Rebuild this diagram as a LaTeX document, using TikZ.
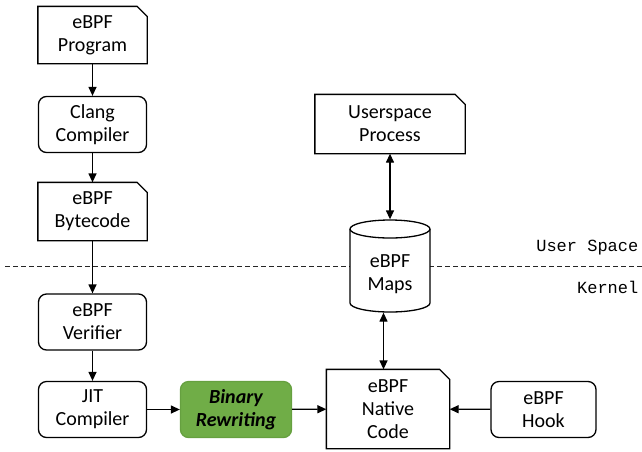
\documentclass[tikz,border=0pt]{standalone}
\usepackage{fontspec}
\setmainfont{Carlito}
\newfontfamily\monofont{Liberation Mono}
\usetikzlibrary{arrows.meta}
\definecolor{rewgreen}{HTML}{70AD47}
\definecolor{rewborder}{HTML}{66A040}
\newcommand\cutframe[2][10pt]{\draw (#2.south west) -- (#2.north west) -- ([xshift=-#1]#2.north east) -- ([yshift=-#1]#2.north east) -- (#2.south east) -- cycle;}
\begin{document}
\begin{tikzpicture}[x=1pt,y=1pt,line width=1.3pt,
  boxbase/.style={minimum width=108pt, minimum height=56pt, align=center, inner sep=0pt, font=\fontsize{20}{23}\selectfont},
  rbox/.style={boxbase, draw, rounded corners=8pt},
  cbox/.style={boxbase},
  greenbox/.style={boxbase, minimum width=111pt, fill=rewgreen, draw=rewborder, rounded corners=8pt, font=\fontsize{20}{23}\selectfont\bfseries\itshape},
  arr/.style={-{Triangle[length=9pt,width=8pt]}},
  biarr/.style={{Triangle[length=9pt,width=8pt]}-{Triangle[length=9pt,width=8pt]}},
  sidelabel/.style={anchor=east, inner sep=0pt, font=\monofont\fontsize{17}{20}\selectfont}
]
\useasboundingbox (0,0) rectangle (642,-451);

% separator
\draw[dash pattern=on 5pt off 3pt, line width=1pt, black!85] (5,-266) coordinate (dl) -- (642,-266) coordinate (dr);
\node[sidelabel] (us) at (639,-248) {User Space};
\node[sidelabel] (kn) at (639,-287) {Kernel};

% left column
\node[cbox] (prog) at (92.5,-35) {eBPF\\Program};
\cutframe{prog}
\node[rbox] (clang) at (92.5,-124.5) {Clang\\Compiler};
\node[cbox, minimum height=57pt] (byte) at (92.5,-211.5) {eBPF\\Bytecode};
\cutframe{byte}
\node[rbox] (verif) at (92.5,-322) {eBPF\\Verifier};
\node[rbox] (jit) at (92.5,-409.5) {JIT\\Compiler};

% bottom row
\node[greenbox] (bin) at (236,-409.5) {Binary\\Rewriting};
\node[cbox, minimum width=122pt, minimum height=78pt] (native) at (388,-409) {eBPF\\Native\\Code};
\cutframe{native}
\node[rbox, minimum width=105pt] (hook) at (543.5,-409.5) {eBPF\\Hook};

% userspace process
\node[cbox, minimum width=149pt, minimum height=58pt] (user) at (390,-124) {Userspace\\Process};
\cutframe{user}

% maps cylinder
\node[minimum width=80pt, minimum height=92pt, inner sep=0pt] (maps) at (390,-266) {};
\fill[white] (350,-229) -- (350,-303) arc[start angle=180, end angle=360, x radius=40pt, y radius=9pt] -- (430,-229) arc[start angle=0, end angle=180, x radius=40pt, y radius=9pt] -- cycle;
\draw (350,-229) -- (350,-303) arc[start angle=180, end angle=360, x radius=40pt, y radius=9pt] -- (430,-229);
\draw (390,-229) ellipse[x radius=40pt, y radius=9pt];
\node[align=center, inner sep=0pt, font=\fontsize{20}{23}\selectfont] (mapstext) at (390,-274) {eBPF\\Maps};

% connectors
\draw[arr] (prog) -- (clang);
\draw[arr] (clang) -- (byte);
\draw[arr] (byte) -- (verif);
\draw[arr] (verif) -- (jit);
\draw[arr] (jit) -- (bin);
\draw[arr] (bin) -- (native);
\draw[arr] (hook) -- (native);
\draw[biarr] (user.south) -- (maps.north);
\draw[biarr] ([xshift=-6.5pt]maps.south) -- ([xshift=-6.5pt]maps.south |- native.north);
\end{tikzpicture}
\end{document}
